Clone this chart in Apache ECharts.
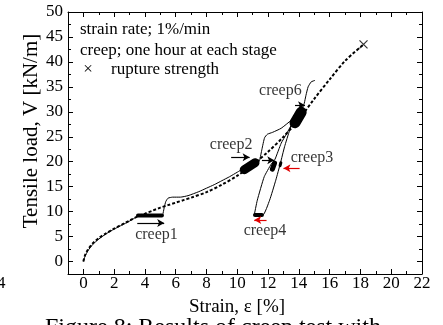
<!DOCTYPE html>
<html>
<head>
<meta charset="utf-8">
<script src="https://cdn.jsdelivr.net/npm/echarts@6/dist/echarts.min.js"></script>
<style>
  html, body { margin: 0; padding: 0; background: #fff; }
  #chart { width: 443px; height: 325px; }
</style>
</head>
<body>
<div id="chart"></div>
<script>
// Monotonic tensile test at 1 %/min (strain %, load kN/m)
const rateStrain = [0, 0.1, 0.3, 0.6, 1, 1.5, 2, 2.5, 3, 3.5, 4, 4.5, 5, 5.5, 6, 6.5, 7, 8, 9, 10, 11, 12, 13, 14, 15, 16, 17, 18.2];
const rateLoad   = [0, 1.2, 2.4, 3.6, 4.7, 5.7, 6.6, 7.4, 8.2, 9.0, 9.6, 10.2, 10.8, 11.3, 11.8, 12.3, 12.8, 13.9, 15.4, 17.2, 19.4, 22.0, 25.0, 28.5, 32.6, 36.5, 40.2, 43.5];

// Multi-stage creep test: loading, unloading and reloading path
const creepStrain = [0, 0.1, 0.3, 0.6, 1, 1.5, 2, 2.5, 3, 3.5, 4.2, 5.1,
  5.15, 5.25, 5.35, 5.5, 5.8, 6.3, 6.8, 7.5, 8, 8.5, 9, 9.5, 10, 10.4, 11.3,
  11.45, 11.6, 11.77, 11.95, 12.3, 12.85, 13.5, 13.85, 14.1,
  13.7, 13.4, 13.07, 12.8, 12.5, 12.1, 11.66, 11.1,
  11.3, 11.75, 12.2, 12.45, 12.85, 13.2, 13.5, 13.9,
  14.2, 14.35, 14.46, 14.6, 14.8, 15.05];
const creepLoad = [0, 1.0, 2.2, 3.4, 4.5, 5.6, 6.5, 7.3, 8.1, 9.0, 9.2, 9.2,
  9.3, 10.8, 12.0, 12.7, 12.9, 12.9, 13.2, 14.0, 14.7, 15.4, 16.2, 17.0, 17.9, 18.6, 19.6,
  20.3, 22.5, 24.8, 25.5, 25.9, 26.7, 28.3, 29.3, 29.8,
  28.6, 26.3, 23.0, 19.7, 16.3, 12.3, 9.3, 9.3,
  12.3, 17.0, 19.5, 20.5, 23.7, 25.6, 27.3, 29.3,
  30.5, 31.7, 33.3, 35.0, 36.0, 36.3];

// Strain range covered during each one-hour hold
const holdNames   = ['creep1', 'creep2', 'creep3', 'creep4', 'creep5', 'creep6'];
const holdFrom    = [[3.55, 9.2], [10.45, 18.4], [12.78, 19.2], [11.15, 9.3], [12.28, 18.5], [13.75, 27.8]];
const holdTo      = [[5.1, 9.2], [11.15, 19.8], [12.83, 19.8], [11.6, 9.3], [12.42, 19.7], [14.15, 29.9]];

// Rupture strength
const rupture = [18.2, 43.5];

// Stage arrows [x from, y, x to] : loading (black) and unloading (red)
const loadArrows   = [[3.5, 7.7, 5.25], [9.6, 20.9, 10.8], [11.6, 20.3, 12.4], [13.75, 31.3, 14.4]];
const unloadArrows = [[14.05, 18.7, 13.0], [11.9, 8.3, 11.1]];

// Stage labels
const stageLabels = ['creep1', 'creep2', 'creep3', 'creep4', 'creep6'];
const stageLabelAt = [[4.75, 5.3], [9.6, 23.3], [14.85, 20.7], [11.8, 6.1], [12.8, 34.3]];

// Axis ticks and labels
const xLabels = [0, 2, 4, 6, 8, 10, 12, 14, 16, 18, 20, 22];
const xMinor  = [-1, 1, 3, 5, 7, 9, 11, 13, 15, 17, 19, 21];
const yLabels = [0, 5, 10, 15, 20, 25, 30, 35, 40, 45, 50];
const yMinor  = [2.5, 7.5, 12.5, 17.5, 22.5, 27.5, 32.5, 37.5, 42.5, 47.5];

const FONT = '"Liberation Serif", "Times New Roman", serif';
const X_MIN = -1, X_MAX = 22, Y_MIN = -2.5, Y_MAX = 50;

function zip(xs, ys) { return xs.map((x, i) => [x, ys[i]]); }

function axis(kind, position, ticks, len, labels, line) {
  const a = {
    type: 'value', position: position,
    min: kind === 'x' ? X_MIN : Y_MIN, max: kind === 'x' ? X_MAX : Y_MAX,
    axisLine: { show: line, onZero: false, lineStyle: { color: '#000', width: 1 } },
    axisTick: { show: true, inside: true, length: len, customValues: ticks, lineStyle: { color: '#000', width: 1 } },
    axisLabel: { show: !!labels },
    splitLine: { show: false }
  };
  if (labels) {
    a.axisLabel = {
      show: true, customValues: labels, color: '#000', fontFamily: FONT, fontSize: 17,
      margin: kind === 'x' ? 1 : 5
    };
  }
  return a;
}

const series = [
  {
    type: 'line', name: 'strain rate', data: zip(rateStrain, rateLoad),
    showSymbol: false, symbol: 'none', smooth: 0.3,
    lineStyle: { color: '#000', width: 2, type: [3, 2] }, z: 3
  },
  {
    type: 'line', name: 'creep', data: zip(creepStrain, creepLoad),
    showSymbol: false, symbol: 'none', smooth: 0.15,
    lineStyle: { color: '#000', width: 1 }, z: 4,
    markLine: {
      silent: true, symbol: ['none', 'arrow'], symbolSize: [6, 7], label: { show: false },
      data: loadArrows.map(a => [
        { coord: [a[0], a[1]], lineStyle: { color: '#000', width: 1.2, type: 'solid' } },
        { coord: [a[2], a[1]] }
      ]).concat(unloadArrows.map(a => [
        { coord: [a[0], a[1]], lineStyle: { color: '#e00000', width: 1.2, type: 'solid' }, itemStyle: { color: '#e00000' } },
        { coord: [a[2], a[1]], itemStyle: { color: '#e00000' } }
      ]))
    }
  },
  {
    type: 'scatter', name: 'rupture', data: [rupture],
    symbol: 'path://M0,0L10,10M10,0L0,10', symbolSize: 8,
    itemStyle: { color: 'transparent', borderColor: '#000', borderWidth: 1.2 }, z: 5
  },
  {
    type: 'scatter', name: 'labels', symbolSize: 1,
    itemStyle: { color: 'transparent' },
    data: stageLabels.map((t, i) => ({ name: t, value: stageLabelAt[i] })),
    label: { show: true, position: 'inside', formatter: '{b}', color: '#000', fontFamily: FONT, fontSize: 16 },
    z: 6
  }
];

// Dense scribble of each hold period drawn as a thick stroke
const holdWidths = [4, 9, 3, 4, 5, 11];
holdNames.forEach((n, i) => {
  series.push({
    type: 'line', name: n, data: [holdFrom[i], holdTo[i]],
    showSymbol: false, symbol: 'none',
    lineStyle: { color: '#000', width: holdWidths[i], cap: 'round' }, z: 4
  });
});

const chart = echarts.init(document.getElementById('chart'), null, { renderer: 'canvas' });
chart.setOption({
  animation: false,
  backgroundColor: '#fff',
  grid: { left: 68, top: 12, width: 354, height: 262 },
  xAxis: [
    axis('x', 'bottom', xLabels, 5, xLabels, true),
    axis('x', 'bottom', xMinor, 3, null, false),
    axis('x', 'top', xLabels, 5, null, true),
    axis('x', 'top', xMinor, 3, null, false)
  ],
  yAxis: [
    axis('y', 'left', yLabels, 5, yLabels, true),
    axis('y', 'left', yMinor, 3, null, false),
    axis('y', 'right', yLabels, 5, null, true),
    axis('y', 'right', yMinor, 3, null, false)
  ],
  series: series,
  graphic: [
    { type: 'text', x: 80, y: 30, style: { text: 'strain rate; 1%/min', font: '17px ' + FONT, fill: '#000', verticalAlign: 'middle' } },
    { type: 'text', x: 80, y: 51, style: { text: 'creep; one hour at each stage', font: '17px ' + FONT, fill: '#000', verticalAlign: 'middle' } },
    { type: 'text', x: 88, y: 70, style: { text: '×', font: '17px ' + FONT, fill: '#000', align: 'center', verticalAlign: 'middle' } },
    { type: 'text', x: 111, y: 70, style: { text: 'rupture strength', font: '17px ' + FONT, fill: '#000', verticalAlign: 'middle' } },
    { type: 'text', x: 31, y: 131, rotation: Math.PI / 2, style: { text: 'Tensile load, V [kN/m]', font: '21px ' + FONT, fill: '#000', align: 'center', verticalAlign: 'middle' } },
    { type: 'text', x: 237, y: 307, style: { text: 'Strain, ε [%]', font: '19px ' + FONT, fill: '#000', align: 'center', verticalAlign: 'middle' } },
    { type: 'text', x: -3, y: 284, style: { text: '4', font: '17px ' + FONT, fill: '#000', verticalAlign: 'middle' } },
    { type: 'text', x: 45, y: 316, style: { text: 'Figure 8: Results of creep test with', font: '24px ' + FONT, fill: '#000', verticalAlign: 'top' } }
  ]
});
</script>
</body>
</html>
